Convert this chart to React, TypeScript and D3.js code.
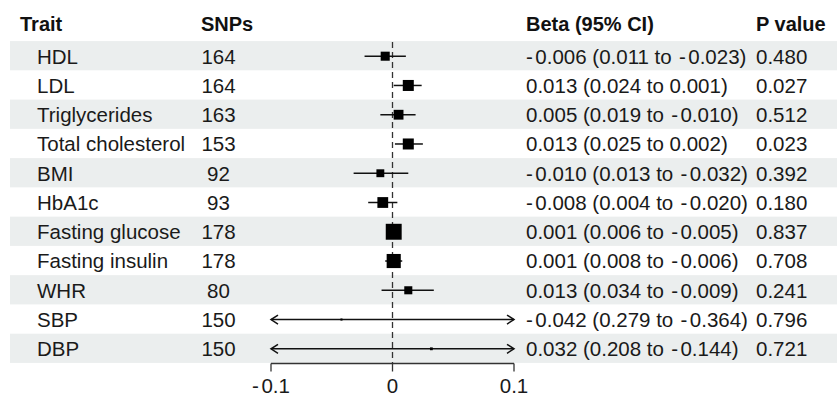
import React from "react";
import * as d3 from "d3";

const traits = ["HDL", "LDL", "Triglycerides", "Total cholesterol", "BMI", "HbA1c", "Fasting glucose", "Fasting insulin", "WHR", "SBP", "DBP"];
const snps = [164, 164, 163, 153, 92, 93, 178, 178, 80, 150, 150];
const beta = [-0.006, 0.013, 0.005, 0.013, -0.010, -0.008, 0.001, 0.001, 0.013, -0.042, 0.032];
const upper = [0.011, 0.024, 0.019, 0.025, 0.013, 0.004, 0.006, 0.008, 0.034, 0.279, 0.208];
const lower = [-0.023, 0.001, -0.010, 0.002, -0.032, -0.020, -0.005, -0.006, -0.009, -0.364, -0.144];
const pValues = [0.480, 0.027, 0.512, 0.023, 0.392, 0.180, 0.837, 0.708, 0.241, 0.796, 0.721];
const xTicks = [-0.1, 0, 0.1];
const headers = ["Trait", "SNPs", "Beta (95% CI)", "P value"];

const W = 837;
const H = 398;
const FONT = "'Liberation Sans', Arial, Helvetica, sans-serif";

// renders a string whose minus signs are given a little extra room, like the reference
function Minus({ s }: { s: string }) {
  const parts = s.split("-");
  return (
    <>
      {parts[0]}
      {parts.slice(1).map((p, k) => (
        <React.Fragment key={k}>
          <tspan dx={k === 0 && parts[0] === "" ? 0 : 1.5}>-</tspan>
          <tspan dx={2.5}>{p}</tspan>
        </React.Fragment>
      ))}
    </>
  );
}

export default function App() {
  const x = d3.scaleLinear().domain([-0.1, 0.1]).range([271, 514]);
  const y = d3.scalePoint<string>().domain(traits).range([56.2, 348.8]);
  const pitch = y.step();
  const fmt = (v: number) => v.toFixed(3);
  const tickFmt = (v: number) => (v === 0 ? "0" : String(v));
  const boxK = 1.67;
  const [xMin, xMax] = x.domain();
  const axisY = 363.5;
  const fs = 20.5;

  const arrowL = (x0: number, yy: number) => `M${x0 + 7},${yy - 4.5} L${x0},${yy} L${x0 + 7},${yy + 4.5}`;
  const arrowR = (x0: number, yy: number) => `M${x0 - 7},${yy - 4.5} L${x0},${yy} L${x0 - 7},${yy + 4.5}`;

  return (
    <svg width={W} height={H} style={{ position: "absolute", left: 0, top: 0, display: "block", background: "#fff" }} fontFamily={FONT}>
      {traits.map((t, i) =>
        i % 2 === 0 ? (
          <rect key={"band" + t} x={10} y={(y(t) as number) - 0.5 - pitch / 2} width={W - 10} height={pitch} fill="#ebeeee" />
        ) : null
      )}
      {/* headers */}
      <g fontWeight="bold" fontSize={20} fill="#111">
        <text x={20} y={31}>{headers[0]}</text>
        <text x={201} y={31}>{headers[1]}</text>
        <text x={526} y={31}>{headers[2]}</text>
        <text x={756} y={31}>{headers[3]}</text>
      </g>
      {/* rows text */}
      <g fontSize={fs} fill="#1a1a1a">
        {traits.map((t, i) => {
          const yy = (y(t) as number) + 7.3;
          return (
            <g key={"txt" + t}>
              <text x={37} y={yy}>{t}</text>
              <text x={218.5} y={yy} textAnchor="middle">{snps[i]}</text>
              <text x={526} y={yy}>
                <Minus s={`${fmt(beta[i])} (${fmt(upper[i])} to ${fmt(lower[i])})`} />
              </text>
              <text x={756} y={yy}>{fmt(pValues[i])}</text>
            </g>
          );
        })}
      </g>
      {/* zero line */}
      <line x1={x(0)} x2={x(0)} y1={42} y2={axisY} stroke="#333" strokeWidth={1.3} strokeDasharray="6,4" />
      {/* CIs and boxes */}
      {traits.map((t, i) => {
        const yy = y(t) as number;
        const lo = Math.max(lower[i], xMin);
        const hi = Math.min(upper[i], xMax);
        const side = boxK / Math.sqrt(upper[i] - lower[i]);
        return (
          <g key={"ci" + t}>
            <line x1={x(lo)} x2={x(hi)} y1={yy} y2={yy} stroke="#111" strokeWidth={1.5} />
            {lower[i] < xMin && <path d={arrowL(x(xMin), yy)} fill="none" stroke="#111" strokeWidth={1.5} />}
            {upper[i] > xMax && <path d={arrowR(x(xMax), yy)} fill="none" stroke="#111" strokeWidth={1.5} />}
            <rect x={x(beta[i]) - side / 2} y={yy - side / 2} width={side} height={side} fill="#000" />
          </g>
        );
      })}
      {/* axis */}
      <g stroke="#333" strokeWidth={1.3}>
        <line x1={x(xMin)} x2={x(xMax)} y1={axisY} y2={axisY} />
        {xTicks.map((v) => (
          <line key={"tk" + v} x1={x(v)} x2={x(v)} y1={axisY} y2={axisY + 8} />
        ))}
      </g>
      <g fontSize={fs} fill="#1a1a1a" textAnchor="middle">
        {xTicks.map((v) => (
          <text key={"tl" + v} x={x(v)} y={393}>
            <Minus s={tickFmt(v)} />
          </text>
        ))}
      </g>
    </svg>
  );
}
